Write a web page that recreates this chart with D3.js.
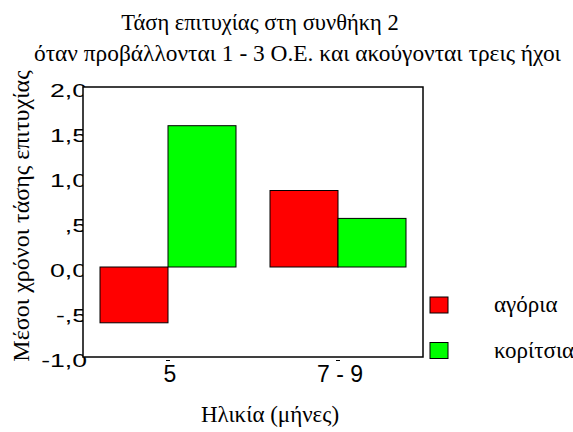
<!DOCTYPE html>
<html><head><meta charset="utf-8">
<script src="https://cdn.jsdelivr.net/npm/d3@7"></script>
<style>body{margin:0;background:#fff}svg{display:block}
.serif{font-family:"Liberation Serif",Tinos,"Times New Roman","DejaVu Serif",serif}
.sans{font-family:"Liberation Sans",Arimo,Arial,Helvetica,sans-serif}
</style>
</head><body>
<svg id="c" width="573" height="432"></svg>
<script>
const categories = ["5", "7 - 9"];
const seriesNames = ["αγόρια", "κορίτσια"];
const boys = [-0.62, 0.85];
const girls = [1.57, 0.54];
const yTicks = [-1, -0.5, 0, 0.5, 1, 1.5, 2];
const yTickLabels = ["-1,0", "-,5", "0,0", ",5", "1,0", "1,5", "2,0"];
const colors = ["#ff0000", "#00ff00"];
const title1 = "Τάση επιτυχίας στη συνθήκη 2";
const title2 = "όταν προβάλλονται 1 - 3 Ο.Ε. και ακούγονται τρεις ήχοι";
const yTitle = "Μέσοι χρόνοι τάσης επιτυχίας";
const xTitle = "Ηλικία (μήνες)";

const svg = d3.select("#c");
const L = 83, R = 423, T = 87, B = 357;
const x = d3.scaleBand().domain(categories).range([L, R]).paddingInner(0.2).paddingOuter(0.1);
const x1 = d3.scaleBand().domain([0, 1]).range([0, x.bandwidth()]);
const y = d3.scaleLinear().domain([-1, 2]).range([B, T]);

// y axis labels (drawn first, plot area covers their right edge)
const yAxis = d3.axisLeft(y).tickValues(yTicks).tickSize(0)
  .tickFormat((d, i) => yTickLabels[i]);
const gy = svg.append("g").attr("transform", `translate(${L + 4},0)`).call(yAxis);
gy.select(".domain").remove();
gy.attr("font-family", null).attr("font-size", null);
gy.selectAll("text").attr("class", "sans").style("font-size", "19px").attr("fill", "#000")
  .attr("x", 0).attr("dy", 0).attr("y", 9.8).attr("transform", "scale(1.4,1)");

// plot area
svg.append("rect").attr("x", L).attr("y", T).attr("width", R - L).attr("height", B - T)
  .attr("fill", "#fff");

// bars
const data = [boys, girls];
categories.forEach((c, i) => {
  data.forEach((s, j) => {
    const v = s[i];
    svg.append("rect")
      .attr("x", x(c) + x1(j))
      .attr("y", y(Math.max(0, v)))
      .attr("width", x1.bandwidth())
      .attr("height", Math.abs(y(v) - y(0)))
      .attr("fill", colors[j]).attr("stroke", "#000").attr("stroke-width", 1);
  });
});

// frame
svg.append("rect").attr("x", L).attr("y", T).attr("width", R - L).attr("height", B - T)
  .attr("fill", "none").attr("stroke", "#000").attr("stroke-width", 1.5);

// x axis
const xAxis = d3.axisBottom(x).tickSize(0);
const gx = svg.append("g").attr("transform", `translate(0,${B})`).call(xAxis);
gx.select(".domain").remove();
gx.attr("font-family", null).attr("font-size", null);
gx.selectAll("text").attr("class", "sans").style("font-size", "23px").attr("fill", "#000")
  .attr("y", 25).attr("dy", 0).attr("dx", 2);
gx.selectAll(".tick").append("line").attr("x1", -2).attr("x2", 2).attr("y1", 3.5).attr("y2", 3.5)
  .attr("stroke", "#000").attr("stroke-width", 1);

// titles
svg.append("text").attr("class", "serif").attr("x", 260).attr("y", 30).attr("text-anchor", "middle")
  .style("font-size", "22.5px").text(title1);
svg.append("text").attr("class", "serif").attr("x", 34).attr("y", 61).attr("text-anchor", "start")
  .style("font-size", "23.4px").text(title2);
svg.append("text").attr("class", "serif").attr("transform", "translate(29,216) rotate(-90)").attr("text-anchor", "middle")
  .style("font-size", "24px").text(yTitle);
svg.append("text").attr("class", "serif").attr("x", 270).attr("y", 422).attr("text-anchor", "middle")
  .style("font-size", "23px").text(xTitle);

// legend
seriesNames.forEach((n, j) => {
  const top = 297 + j * 45.5;
  svg.append("rect").attr("x", 430).attr("y", top).attr("width", 18).attr("height", 16)
    .attr("fill", colors[j]).attr("stroke", "#000").attr("stroke-width", 1);
  svg.append("text").attr("class", "serif").attr("x", 494).attr("y", top + 15)
    .style("font-size", "23px").text(n);
});
</script>
</body></html>
